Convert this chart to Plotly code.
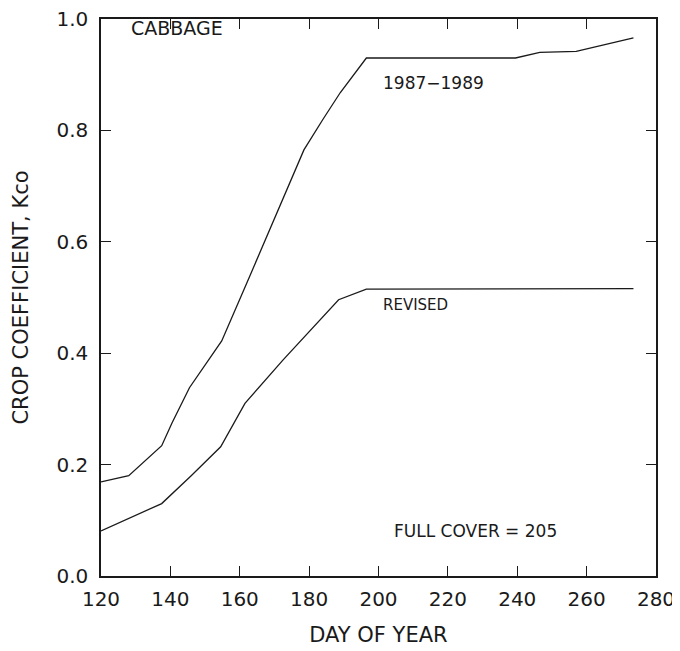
import plotly.graph_objects as go

# 1987-1989 crop coefficient curve
day_8789 = [120, 128, 137.5, 140.5, 145.5, 154.8, 163, 171, 178.5, 184, 189, 196.5, 239.5, 246.5, 257, 273.5]
kco_8789 = [0.169, 0.180, 0.234, 0.275, 0.338, 0.422, 0.540, 0.655, 0.765, 0.820, 0.868, 0.930, 0.930, 0.940, 0.942, 0.966]

# Revised crop coefficient curve
day_rev = [120, 128, 137.5, 146, 154.5, 161.5, 172.5, 188.5, 196.5, 273.5]
kco_rev = [0.081, 0.103, 0.130, 0.180, 0.232, 0.310, 0.388, 0.496, 0.515, 0.516]

x_ticks = [120, 140, 160, 180, 200, 220, 240, 260, 280]
y_ticks = [0.0, 0.2, 0.4, 0.6, 0.8, 1.0]

FONT = "DejaVu Sans"
INK = "#1a1a1a"

fig = go.Figure()
fig.add_trace(go.Scatter(x=day_8789, y=kco_8789, mode="lines",
                         line=dict(color=INK, width=1.3), name="1987–1989"))
fig.add_trace(go.Scatter(x=day_rev, y=kco_rev, mode="lines",
                         line=dict(color=INK, width=1.3), name="REVISED"))

ann_font = dict(family=FONT, color=INK)
fig.add_annotation(x=128.0, y=0.984, text="CABBAGE", showarrow=False,
                   xanchor="left", yanchor="middle", font=dict(size=19, **ann_font))
fig.add_annotation(x=200.8, y=0.886, text="1987−1989", showarrow=False,
                   xanchor="left", yanchor="middle", font=dict(size=17, **ann_font))
fig.add_annotation(x=200.8, y=0.487, text="REVISED", showarrow=False,
                   xanchor="left", yanchor="middle", font=dict(size=15, **ann_font))
fig.add_annotation(x=204, y=0.08, text="FULL COVER = 205", showarrow=False,
                   xanchor="left", yanchor="middle", font=dict(size=17, **ann_font))

# page body has an 8px margin, so the figure is offset by 8px
fig.update_layout(
    width=672, height=643,
    margin=dict(l=93, r=24, t=11, b=75),
    paper_bgcolor="white", plot_bgcolor="white",
    showlegend=False,
    font=dict(family=FONT, color=INK),
)
fig.update_xaxes(
    range=[120, 280], tickvals=x_ticks, ticktext=[str(v) for v in x_ticks],
    showgrid=False, zeroline=False,
    showline=True, linecolor=INK, linewidth=1.5, mirror="ticks",
    ticks="inside", ticklen=10, tickwidth=1.3, tickcolor=INK,
    tickfont=dict(size=20, family=FONT, color=INK), ticklabelstandoff=4,
    ticklabeloverflow="allow",
    title=dict(text="DAY OF YEAR", font=dict(size=21, family=FONT, color=INK), standoff=18),
    automargin=False,
)
fig.update_yaxes(
    range=[0, 1], tickvals=y_ticks, ticktext=[f"{v:.1f}" for v in y_ticks],
    showgrid=False, zeroline=False,
    showline=True, linecolor=INK, linewidth=1.5, mirror="ticks",
    ticks="inside", ticklen=10, tickwidth=1.3, tickcolor=INK,
    tickfont=dict(size=20, family=FONT, color=INK), ticklabelstandoff=7,
    ticklabeloverflow="allow",
    title=dict(text="CROP COEFFICIENT, Kco", font=dict(size=21, family=FONT, color=INK), standoff=22),
    automargin=False,
)

fig.write_html("out.html")
